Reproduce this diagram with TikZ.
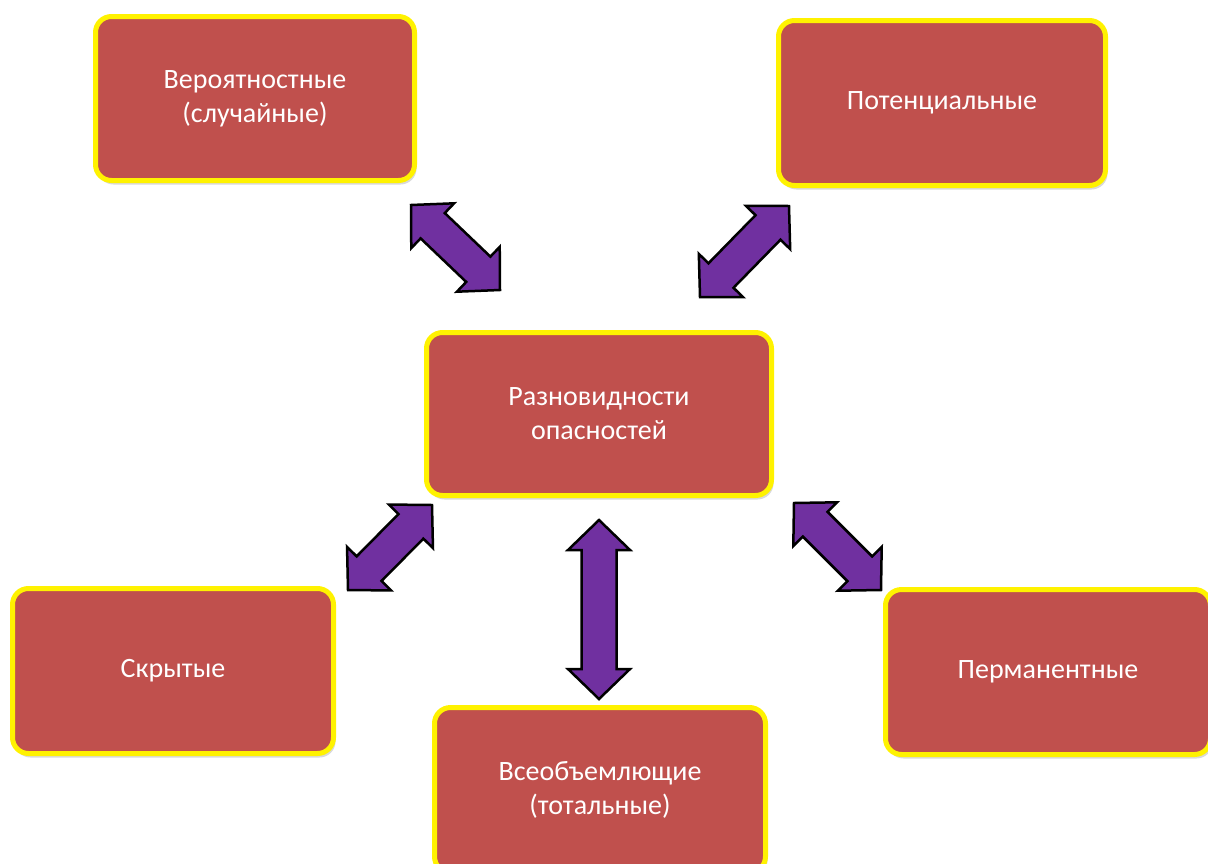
\documentclass[tikz,border=0pt]{standalone}
\usepackage{fontspec}
\setmainfont{Carlito}
\usetikzlibrary{shadows,calc}
\definecolor{boxred}{HTML}{C0504D}
\definecolor{linkpurple}{HTML}{7030A0}
\tikzset{
  kind/.style={draw=yellow,line width=5pt,fill=boxred,rounded corners=16pt,
    text=white,align=center,inner sep=0pt,font=\fontsize{28}{34}\selectfont,
    drop shadow={opacity=0.3,shadow xshift=2pt,shadow yshift=-4pt}},
  link/.style={draw=black,line width=2.5pt,fill=linkpurple}
}
% block arrow with two heads between two named coordinates
\newcommand{\twoway}[2]{%
  \coordinate (ha) at ($(#1)!30pt!(#2)$);
  \coordinate (hb) at ($(#2)!30pt!(#1)$);
  \draw[link] (#1) -- ($(ha)!31pt!90:(#2)$) -- ($(ha)!17.5pt!90:(#2)$)
    -- ($(hb)!17.5pt!-90:(#1)$) -- ($(hb)!31pt!-90:(#1)$) -- (#2)
    -- ($(hb)!31pt!90:(#1)$) -- ($(hb)!17.5pt!90:(#1)$)
    -- ($(ha)!17.5pt!-90:(#2)$) -- ($(ha)!31pt!-90:(#2)$) -- cycle;}
\begin{document}
\begin{tikzpicture}[x=1pt,y=-1pt]
\useasboundingbox (0,0) rectangle (1208,863);
% kinds of hazards
\node[kind,minimum width=345pt,minimum height=163pt] (main) at (599,414) {Разновидности\\опасностей};
\node[kind,minimum width=319pt,minimum height=164pt] (prob) at (255,98.5) {Вероятностные\\(случайные)};
\node[kind,minimum width=327pt,minimum height=165pt] (pot) at (942,103) {Потенциальные};
\node[kind,minimum width=321pt,minimum height=165pt] (hid) at (173,671) {Скрытые};
\node[kind,minimum width=331pt,minimum height=165pt] (tot) at (600,790) {Всеобъемлющие\\(тотальные)};
\node[kind,minimum width=325pt,minimum height=165pt] (perm) at (1048,672) {Перманентные};
% arrow ends
\coordinate (p1) at (411,205);  \coordinate (m1) at (500,290);
\coordinate (p2) at (789,206);  \coordinate (m2) at (700,297);
\coordinate (h3) at (348,590);  \coordinate (m3) at (432,505);
\coordinate (t4) at (599,699);  \coordinate (m4) at (599,520);
\coordinate (r5) at (881,590);  \coordinate (m5) at (794,503);
% double arrows
\twoway{p1}{m1}
\twoway{p2}{m2}
\twoway{h3}{m3}
\twoway{t4}{m4}
\twoway{r5}{m5}
\end{tikzpicture}
\end{document}
